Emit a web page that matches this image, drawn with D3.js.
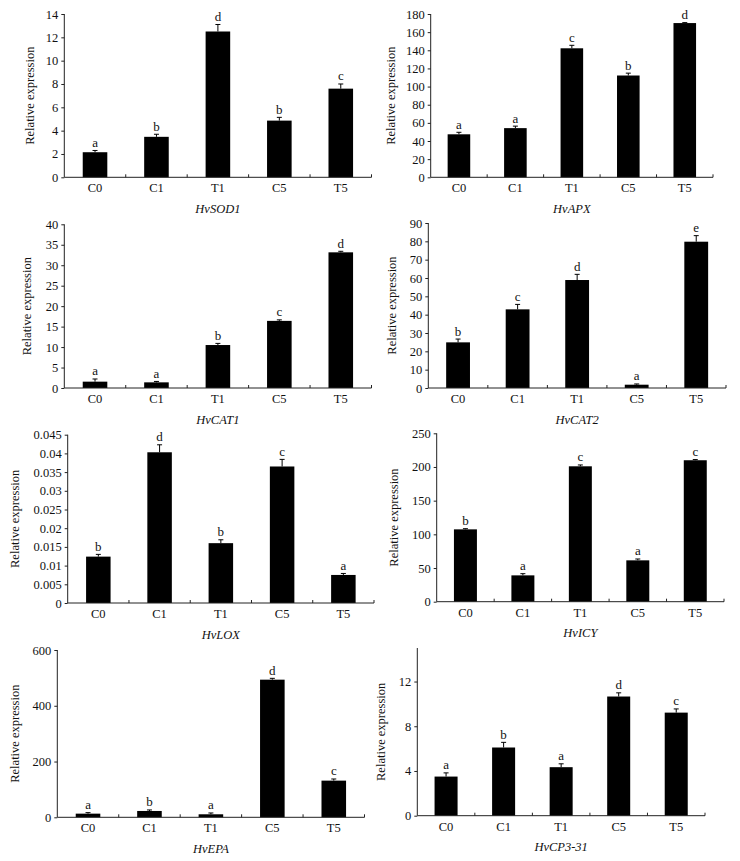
<!DOCTYPE html>
<html>
<head>
<meta charset="utf-8">
<script src="https://cdn.jsdelivr.net/npm/d3@7"></script>
<style>
  body { margin: 0; background: #fff; }
  svg { display: block; }
  text { font-family: "Liberation Serif", "Times New Roman", serif; fill: #111; }
</style>
</head>
<body>
<svg id="chart" width="740" height="861"></svg>
<script>
// ---------- data ----------
const categories = ["C0", "C1", "T1", "C5", "T5"];
const genes = ["HvSOD1", "HvAPX", "HvCAT1", "HvCAT2", "HvLOX", "HvICY", "HvEPA", "HvCP3-31"];

const sod1Values = [2.15, 3.47, 12.5, 4.86, 7.6];
const sod1Errors = [0.15, 0.22, 0.6, 0.28, 0.4];
const sod1Letters = ["a", "b", "d", "b", "c"];

const apxValues = [47.4, 54.2, 142.2, 112.2, 170.0];
const apxErrors = [2.2, 2.2, 3.3, 2.6, 0.5];
const apxLetters = ["a", "a", "c", "b", "d"];

const cat1Values = [1.55, 1.38, 10.5, 16.4, 33.15];
const cat1Errors = [0.65, 0.22, 0.4, 0.25, 0.25];
const cat1Letters = ["a", "a", "b", "c", "d"];

const cat2Values = [24.9, 42.9, 58.9, 1.8, 79.8];
const cat2Errors = [1.8, 2.7, 3.1, 0.4, 3.3];
const cat2Letters = ["b", "c", "d", "a", "e"];

const loxValues = [0.0124, 0.0403, 0.0160, 0.0365, 0.0075];
const loxErrors = [0.0006, 0.0020, 0.0009, 0.0019, 0.0004];
const loxLetters = ["b", "d", "b", "c", "a"];

const icyValues = [107.4, 39.1, 201.0, 61.4, 210.0];
const icyErrors = [1.0, 2.5, 2.0, 2.0, 1.0];
const icyLetters = ["b", "a", "c", "a", "c"];

const epaValues = [13.1, 22.7, 10.8, 493.6, 131.5];
const epaErrors = [3.6, 3.6, 4.7, 4.8, 5.9];
const epaLetters = ["a", "b", "a", "d", "c"];

const cpValues = [3.5, 6.1, 4.34, 10.66, 9.22];
const cpErrors = [0.33, 0.46, 0.3, 0.33, 0.33];
const cpLetters = ["a", "b", "a", "d", "c"];

const sod1Ticks = [0, 2, 4, 6, 8, 10, 12, 14];
const apxTicks = [0, 20, 40, 60, 80, 100, 120, 140, 160, 180];
const cat1Ticks = [0, 5, 10, 15, 20, 25, 30, 35, 40];
const cat2Ticks = [0, 10, 20, 30, 40, 50, 60, 70, 80, 90];
const loxTicks = [0, 0.005, 0.01, 0.015, 0.02, 0.025, 0.03, 0.035, 0.04, 0.045];
const icyTicks = [0, 50, 100, 150, 200, 250];
const epaTicks = [0, 200, 400, 600];
const cpTicks = [0, 4, 8, 12];

const yMaxima = [14, 180, 40, 90, 0.045, 250, 600, 15];

const valueSets = [sod1Values, apxValues, cat1Values, cat2Values, loxValues, icyValues, epaValues, cpValues];
const errorSets = [sod1Errors, apxErrors, cat1Errors, cat2Errors, loxErrors, icyErrors, epaErrors, cpErrors];
const letterSets = [sod1Letters, apxLetters, cat1Letters, cat2Letters, loxLetters, icyLetters, epaLetters, cpLetters];
const tickSets = [sod1Ticks, apxTicks, cat1Ticks, cat2Ticks, loxTicks, icyTicks, epaTicks, cpTicks];

// ---------- layout (pixel frames of each panel) ----------
const frames = [
  { x0: 64.3, x1: 371.5, yT: 14,    yB: 177.3, labX: 31.5 },
  { x0: 430.7, x1: 713,  yT: 14,    yB: 177.3, labX: 392.5 },
  { x0: 64.3, x1: 371.5, yT: 224.3, yB: 388,   labX: 28.5 },
  { x0: 428.3, x1: 726,  yT: 223,   yB: 388,   labX: 393 },
  { x0: 67.7, x1: 374,   yT: 434.7, yB: 603,   labX: 16 },
  { x0: 436.7, x1: 724,  yT: 433.3, yB: 601.7, labX: 395 },
  { x0: 57.3, x1: 364.5, yT: 650,   yB: 817.3, labX: 16 },
  { x0: 417.3, x1: 705,  yT: 648,   yB: 815.7, labX: 382.5 }
];

const svg = d3.select("#chart");

genes.forEach((gene, gi) => {
  const f = frames[gi];
  const vals = valueSets[gi], errs = errorSets[gi], lets = letterSets[gi];
  const g = svg.append("g");

  const x = d3.scaleBand().domain(categories).range([f.x0, f.x1])
    .paddingInner(0.6).paddingOuter(0.3);
  const y = d3.scaleLinear().domain([0, yMaxima[gi]]).range([f.yB, f.yT]);

  // bars
  g.selectAll("rect.bar").data(categories).join("rect")
    .attr("class", "bar")
    .attr("x", d => x(d))
    .attr("width", x.bandwidth())
    .attr("y", (d, i) => y(vals[i]))
    .attr("height", (d, i) => y(0) - y(vals[i]))
    .attr("fill", "#000");

  // error bars
  const eb = g.selectAll("g.err").data(categories).join("g").attr("class", "err");
  eb.append("line")
    .attr("x1", d => x(d) + x.bandwidth() / 2)
    .attr("x2", d => x(d) + x.bandwidth() / 2)
    .attr("y1", (d, i) => y(vals[i]))
    .attr("y2", (d, i) => y(vals[i] + errs[i]))
    .attr("stroke", "#000").attr("stroke-width", 1);
  eb.append("line")
    .attr("x1", d => x(d) + x.bandwidth() / 2 - 2.5)
    .attr("x2", d => x(d) + x.bandwidth() / 2 + 2.5)
    .attr("y1", (d, i) => y(vals[i] + errs[i]))
    .attr("y2", (d, i) => y(vals[i] + errs[i]))
    .attr("stroke", "#000").attr("stroke-width", 1);

  // significance letters
  g.selectAll("text.letter").data(categories).join("text")
    .attr("class", "letter")
    .attr("x", d => x(d) + x.bandwidth() / 2)
    .attr("y", (d, i) => y(vals[i] + errs[i]) - 3.5)
    .attr("text-anchor", "middle")
    .attr("font-size", "13px")
    .text((d, i) => lets[i]);

  // y axis
  const fmt = d => (d === 0 ? "0" : String(+d.toFixed(4)));
  const yAxis = g.append("g")
    .attr("transform", `translate(${f.x0},0)`)
    .call(d3.axisLeft(y).tickValues(tickSets[gi]).tickSize(3).tickPadding(3).tickFormat(fmt));
  yAxis.select(".domain").attr("d", `M0,${f.yT}V${f.yB}`).attr("stroke", "#222");
  yAxis.selectAll(".tick line").attr("stroke", "#222");
  yAxis.selectAll(".tick text")
    .attr("font-family", "'Liberation Serif', serif")
    .attr("font-size", "12.5px").attr("fill", "#111");

  // x axis baseline with inward ticks at band boundaries
  g.append("line")
    .attr("x1", f.x0).attr("x2", f.x1)
    .attr("y1", y(0)).attr("y2", y(0))
    .attr("stroke", "#222").attr("stroke-width", 1);
  const bounds = d3.range(1, categories.length + 1).map(i => f.x0 + i * x.step());
  g.selectAll("line.xt").data(bounds).join("line")
    .attr("class", "xt")
    .attr("x1", d => d).attr("x2", d => d)
    .attr("y1", y(0)).attr("y2", y(0) - 3)
    .attr("stroke", "#222");

  // category labels
  g.selectAll("text.cat").data(categories).join("text")
    .attr("class", "cat")
    .attr("x", d => x(d) + x.bandwidth() / 2)
    .attr("y", f.yB + 15)
    .attr("text-anchor", "middle")
    .attr("font-size", "12.5px")
    .text(d => d);

  // gene name
  g.append("text")
    .attr("x", (f.x0 + f.x1) / 2)
    .attr("y", f.yB + 35.5)
    .attr("text-anchor", "middle")
    .attr("font-size", "12.5px")
    .attr("font-style", "italic")
    .text(gene);

  // y label
  g.append("text")
    .attr("transform", `translate(${f.labX},${(f.yT + f.yB) / 2}) rotate(-90)`)
    .attr("text-anchor", "middle")
    .attr("dominant-baseline", "middle")
    .attr("font-size", "12.5px")
    .text("Relative expression");
});
</script>
</body>
</html>
